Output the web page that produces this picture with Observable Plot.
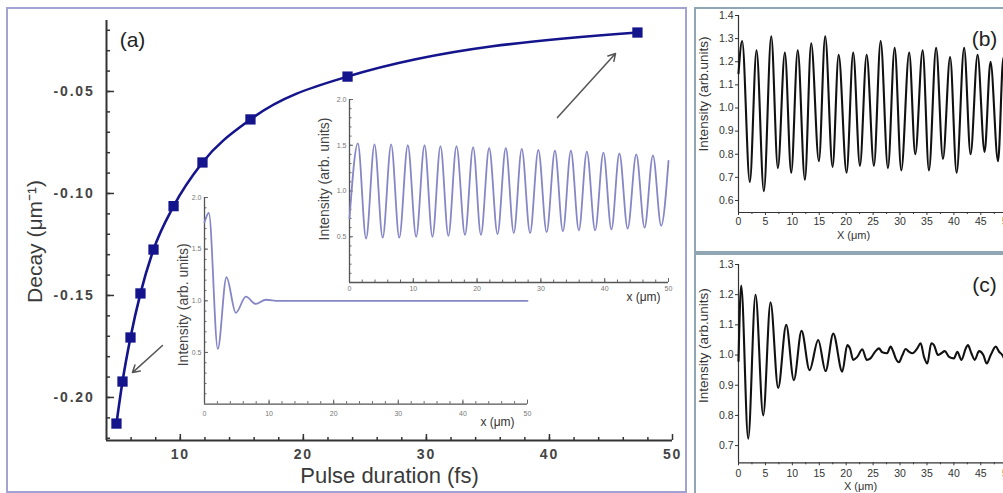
<!DOCTYPE html>
<html>
<head>
<meta charset="utf-8">
<script src="https://cdn.jsdelivr.net/npm/d3@7"></script>
<script src="https://cdn.jsdelivr.net/npm/@observablehq/plot@0.6"></script>
<style>
html, body { margin: 0; padding: 0; background: #fff; overflow: hidden; }
#fig { position: relative; width: 1003px; height: 493px; overflow: hidden; background: #fff; }
#fig > * { position: absolute; }
#main g[aria-label="x-axis tick label"] text,
#main g[aria-label="y-axis tick label"] text { letter-spacing: 1.8px; }
g[aria-label="xtitle"] text { letter-spacing: 0.7px; }
g[aria-label="ylabelB"] text { letter-spacing: 1.4px; }
g[aria-label="ylabelC"] text { letter-spacing: 1.05px; }
.box { box-sizing: border-box; }
</style>
</head>
<body>
<div id="fig"></div>
<script>
// ---------- DATA ----------
// Panel (a): decay vs pulse duration
const pulseDuration = [4.81, 5.30, 5.95, 6.76, 7.82, 9.45, 11.80, 15.70, 23.59, 47.15];
const decayRate = [-0.2128, -0.1922, -0.1706, -0.1490, -0.1275, -0.1062, -0.0848, -0.0637, -0.0427, -0.0211];
const mainXTicks = [10, 20, 30, 40, 50];
const mainYTicks = [-0.20, -0.15, -0.10, -0.05];
// arrows (from -> to) in data units
const arrowFromX = [8.55, 40.65];
const arrowFromY = [-0.1745, -0.0628];
const arrowToX = [6.11, 45.37];
const arrowToY = [-0.1878, -0.0314];

// Inset 1 (short pulse, damped) – extrema
const inset1X = [0, 0.67, 2.06, 3.4, 4.85, 6.4, 7.95, 9.5, 11.5, 50];
const inset1Y = [1.76, 1.85, 0.535, 1.228, 0.884, 1.04, 0.97, 1.01, 1.0, 1.0];

// Inset 2 (long pulse, sustained)
const inset2X = [0, 1.31, 2.6, 3.92, 5.2, 6.53, 7.8, 9.14, 10.45, 11.76,
  13.0, 14.26, 15.5, 16.77, 18.1, 19.38, 20.6, 21.89, 23.2, 24.5,
  25.75, 27.0, 28.3, 29.6, 30.9, 32.2, 33.45, 34.7, 35.95, 37.2,
  38.5, 39.8, 41.05, 42.3, 43.6, 44.95, 46.25, 47.56, 48.85, 50];
const inset2Y = [0.7, 1.52, 0.48, 1.51, 0.49, 1.51, 0.49, 1.50, 0.50, 1.50,
  0.50, 1.49, 0.51, 1.49, 0.52, 1.48, 0.52, 1.47, 0.53, 1.47,
  0.54, 1.46, 0.54, 1.45, 0.55, 1.44, 0.56, 1.44, 0.57, 1.43,
  0.57, 1.42, 0.58, 1.41, 0.59, 1.40, 0.60, 1.39, 0.62, 1.33];
const insetXTicks = [0, 10, 20, 30, 40, 50];
const insetYTicks = [0.5, 1.0, 1.5, 2.0];

// Panel (b): measured, sustained oscillation
const panelBX = [0, 0.68, 2.1, 3.35, 4.71, 6.08, 7.31, 8.61, 9.79, 11.0,
  12.33, 13.5, 14.93, 16.1, 17.47, 18.6, 20.07, 21.3, 22.55, 23.8,
  25.15, 26.4, 27.75, 29.0, 30.23, 31.7, 32.83, 34.2, 35.37, 36.7,
  37.97, 39.3, 40.51, 41.9, 43.1, 44.4, 45.7, 46.8, 48.2, 49.2, 50.5, 51.8];
const panelBY = [1.15, 1.29, 0.68, 1.25, 0.64, 1.31, 0.74, 1.24, 0.72, 1.25,
  0.69, 1.28, 0.77, 1.31, 0.745, 1.23, 0.72, 1.24, 0.75, 1.23,
  0.75, 1.29, 0.74, 1.26, 0.73, 1.24, 0.80, 1.25, 0.73, 1.26,
  0.78, 1.22, 0.72, 1.26, 0.80, 1.23, 0.81, 1.20, 0.77, 1.22, 0.76, 1.24];
const panelBYTicks = [0.6, 0.7, 0.8, 0.9, 1.0, 1.1, 1.2, 1.3, 1.4];

// Panel (c): measured, damped oscillation
const panelCX = [0, 0.5, 1.8, 3.16, 4.59, 5.95, 7.37, 8.86, 10.28, 11.71,
  13.2, 14.8, 16.17, 17.6, 19.27, 20.2, 20.7, 21.3, 22.06, 23.0,
  23.8, 24.5, 25.46, 26.08, 26.7, 27.6, 28.25, 28.75, 29.2, 29.8,
  30.4, 31.04, 31.66, 32.3, 33.2, 33.83, 34.45, 35.07, 35.8, 36.3,
  37.05, 37.67, 38.3, 39.1, 40.0, 40.65, 41.4, 42.2, 42.6, 43.25,
  43.87, 44.67, 45.47, 46.1, 46.84, 47.77, 48.4, 49.0, 49.8, 50.6, 51.5];
const panelCY = [0.98, 1.23, 0.723, 1.20, 0.80, 1.175, 0.891, 1.10, 0.917, 1.08,
  0.95, 1.05, 0.947, 1.071, 0.945, 1.033, 1.022, 0.984, 0.994, 1.019,
  0.984, 0.989, 1.013, 1.022, 1.009, 1.006, 1.028, 1.011, 0.989, 0.976,
  0.998, 1.02, 1.011, 1.006, 1.022, 1.039, 0.994, 0.972, 1.039, 1.033,
  1.0, 1.006, 1.013, 0.994, 0.989, 1.011, 0.984, 1.022, 1.033, 1.006,
  0.984, 1.013, 1.0, 0.972, 1.0, 1.028, 1.011, 1.0, 0.975, 1.01, 0.99];
const panelCYTicks = [0.7, 0.8, 0.9, 1.0, 1.1, 1.2, 1.3];
const panelXTicks = [0, 5, 10, 15, 20, 25, 30, 35, 40, 45, 50];

// ---------- HELPERS ----------
const FONT = "'Liberation Sans', Arial, Helvetica, sans-serif";
const fig = document.getElementById("fig");
function place(node, left, top, id) {
  node.style.left = left + "px";
  node.style.top = top + "px";
  if (id) node.id = id;
  fig.appendChild(node);
  return node;
}
function box(left, top, w, h, color) {
  const d = document.createElement("div");
  d.className = "box";
  d.style.cssText = `left:${left}px;top:${top}px;width:${w}px;height:${h}px;border:2px solid ${color};`;
  fig.appendChild(d);
}
const zip = (xs, ys) => xs.map((x, i) => ({x, y: ys[i]}));

// ---------- BORDERS ----------
box(6, 7, 681, 486, "#a3a3d3");
box(694, 7, 330, 246, "#90a6b4");
box(694, 253, 330, 260, "#90a6b4");

// ---------- PANEL (a) ----------
{
  const W = 690, H = 493, mL = 106, mR = 18, mT = 20, mB = 53;
  const fw = W - mL - mR, fh = H - mT - mB;
  const xDom = [4, 50], yDom = [-0.2211, -0.0152];
  const xMinor = d3.range(6, 50, 2);
  const yMinor = d3.range(-22, -1, 1).map(v => v / 100);
  const pts = zip(pulseDuration, decayRate);
  const arrows = arrowFromX.map((x, i) => ({x1: x, y1: arrowFromY[i], x2: arrowToX[i], y2: arrowToY[i]}));
  const svg = Plot.plot({
    width: W, height: H, marginLeft: mL, marginRight: mR, marginTop: mT, marginBottom: mB,
    style: {background: "transparent", fontFamily: FONT, overflow: "visible"},
    x: {domain: xDom, label: null},
    y: {domain: yDom, label: null},
    marks: [
      Plot.axisX(mainXTicks, {tickSize: 0, tickPadding: 9, fontSize: 14, fontWeight: "bold", fill: "#444", label: null}),
      Plot.axisY(mainYTicks, {tickSize: 0, tickPadding: 12, fontSize: 14, fontWeight: "bold", fill: "#444", label: null, tickFormat: d => d.toFixed(2)}),
      Plot.tickX(xMinor, {x: d => d, insetTop: fh - 3, stroke: "#333", strokeWidth: 1.5}),
      Plot.tickX(mainXTicks, {x: d => d, insetTop: fh - 6, stroke: "#333", strokeWidth: 1.5}),
      Plot.tickY(yMinor, {y: d => d, insetRight: fw - 4, stroke: "#333", strokeWidth: 1.5}),
      Plot.tickY(mainYTicks, {y: d => d, insetRight: fw - 8, stroke: "#333", strokeWidth: 1.5}),
      Plot.ruleX([xDom[0]], {stroke: "#333", strokeWidth: 2}),
      Plot.ruleY([yDom[0]], {stroke: "#333", strokeWidth: 2}),
      Plot.line(pts, {x: "x", y: "y", curve: "monotone-x", stroke: "#14148c", strokeWidth: 2.6}),
      Plot.dot(pts, {x: "x", y: "y", symbol: "square", r: 5.8, fill: "#14148c", stroke: "none"}),
      Plot.arrow(arrows, {x1: "x1", y1: "y1", x2: "x2", y2: "y2", stroke: "#555", strokeWidth: 1.5, headLength: 8}),
      Plot.text(["(a)"], {frameAnchor: "top-left", dx: 26, dy: 20, fontSize: 21, fill: "#222", textAnchor: "middle", lineAnchor: "middle"}),
      Plot.text(["Pulse duration (fs)"], {frameAnchor: "bottom", dy: 35, fontSize: 22, fill: "#3a3a3a", textAnchor: "middle", lineAnchor: "middle", ariaLabel: "xtitle"}),
      Plot.text(["Decay (μm⁻¹)"], {frameAnchor: "left", dx: -71, dy: 11, rotate: -90, fontSize: 21, fill: "#3a3a3a", textAnchor: "middle", lineAnchor: "middle"})
    ]
  });
  place(svg, 0, 0, "main");
}

// ---------- INSETS ----------
function inset(xs, ys, o) {
  const fw = o.width - o.mL - o.mR, fh = o.height - o.mT - o.mB;
  return Plot.plot({
    width: o.width, height: o.height, marginLeft: o.mL, marginRight: o.mR, marginTop: o.mT, marginBottom: o.mB,
    style: {background: "transparent", fontFamily: FONT, overflow: "visible"},
    x: {domain: [0, 50], label: null},
    y: {domain: [0, 2], label: null},
    marks: [
      Plot.axisX(insetXTicks, {tickSize: 0, tickPadding: o.xPad, fontSize: 7, fill: "#777", label: null}),
      Plot.axisY(insetYTicks, {tickSize: 0, tickPadding: 3, fontSize: 7, fill: "#777", label: null, tickFormat: d => d.toFixed(1)}),
      Plot.tickX(d3.range(2, 51, 2), {x: d => d, insetTop: fh - 2.5, stroke: "#666"}),
      Plot.tickX(insetXTicks, {x: d => d, insetTop: fh - 4, stroke: "#666"}),
      Plot.tickY(d3.range(1, 21).map(v => v / 10), {y: d => d, insetRight: fw - 2.5, stroke: "#666"}),
      Plot.tickY(insetYTicks, {y: d => d, insetRight: fw - 4, stroke: "#666"}),
      Plot.ruleX([0], {stroke: "#555", strokeWidth: 1.3}),
      Plot.ruleY([0], {stroke: "#555", strokeWidth: 1.3}),
      Plot.line(zip(xs, ys), {x: "x", y: "y", curve: "monotone-x", stroke: "#8686c6", strokeWidth: 1.8}),
      Plot.text(["Intensity (arb. units)"], {frameAnchor: "left", dx: o.ylDx, dy: o.ylDy, rotate: -90, fontSize: 14, fill: "#444", textAnchor: "middle", lineAnchor: "middle"}),
      Plot.text(["x (μm)"], {frameAnchor: "bottom-right", dx: o.xlDx, dy: o.xlDy, fontSize: 12, fill: "#333", textAnchor: "middle", lineAnchor: "middle"})
    ]
  });
}
place(inset(inset1X, inset1Y, {width: 390, height: 250, mL: 54, mT: 12, mR: 13, mB: 31.4, xPad: 6.5, ylDx: -21, ylDy: 4, xlDx: -30, xlDy: 18}), 150, 185);
place(inset(inset2X, inset2Y, {width: 390, height: 225, mL: 49, mT: 14, mR: 22, mB: 28, xPad: 3.5, ylDx: -25, ylDy: -12, xlDx: -25, xlDy: 15}), 300, 85);

// ---------- PANELS (b) and (c) ----------
function panel(xs, ys, o) {
  return Plot.plot({
    width: 335, height: o.height, marginLeft: 45, marginRight: 10, marginTop: o.mT, marginBottom: o.mB,
    style: {background: "transparent", fontFamily: FONT, overflow: "visible"},
    x: {domain: [0, 52], label: null},
    y: {domain: o.yDom, label: null},
    marks: [
      Plot.axisX(panelXTicks, {tickSize: 3, tickPadding: o.xPad, fontSize: 10.5, fill: "#333", stroke: "#333", label: null}),
      Plot.axisX(d3.range(2.5, 52, 5), {tickSize: 2, tickFormat: () => "", stroke: "#333", label: null}),
      Plot.axisY(o.yTicks, {tickSize: 3, tickPadding: 2, fontSize: 10.5, fill: "#333", stroke: "#333", label: null, tickFormat: d => d.toFixed(1)}),
      Plot.ruleX([0], {stroke: "#333", strokeWidth: 1.2}),
      Plot.ruleY([o.yDom[0]], {stroke: "#333", strokeWidth: 1.2}),
      Plot.line(zip(xs, ys), {x: "x", y: "y", curve: "monotone-x", stroke: "#111", strokeWidth: 2.1}),
      Plot.text(["Intensity (arb.units)"], {frameAnchor: "left", dx: -35, dy: o.ylDy, rotate: -90, fontSize: 13.5, fill: "#333", textAnchor: "middle", lineAnchor: "middle", ariaLabel: o.ylAria}),
      Plot.text(["X (μm)"], {frameAnchor: "bottom", dx: o.xlDx, dy: o.xlDy, fontSize: 11, fill: "#333", textAnchor: "middle", lineAnchor: "middle"}),
      Plot.text([o.tag], {frameAnchor: "top-left", dx: 246, dy: o.tagDy, fontSize: 21, fill: "#222", textAnchor: "middle", lineAnchor: "middle"})
    ]
  });
}
place(panel(panelBX, panelBY, {height: 244, mT: 7, mB: 40, yDom: [0.548, 1.4], yTicks: panelBYTicks, xPad: 2, ylDy: -20, ylAria: "ylabelB", xlDx: -25, xlDy: 23, tag: "(b)", tagDy: 24}), 693, 8);
place(panel(panelCX, panelCY, {height: 239, mT: 10, mB: 30.7, yDom: [0.643, 1.3], yTicks: panelCYTicks, xPad: 4, ylDy: -18, ylAria: "ylabelC", xlDx: -18, xlDy: 23.5, tag: "(c)", tagDy: 21}), 693, 254);
</script>
</body>
</html>
